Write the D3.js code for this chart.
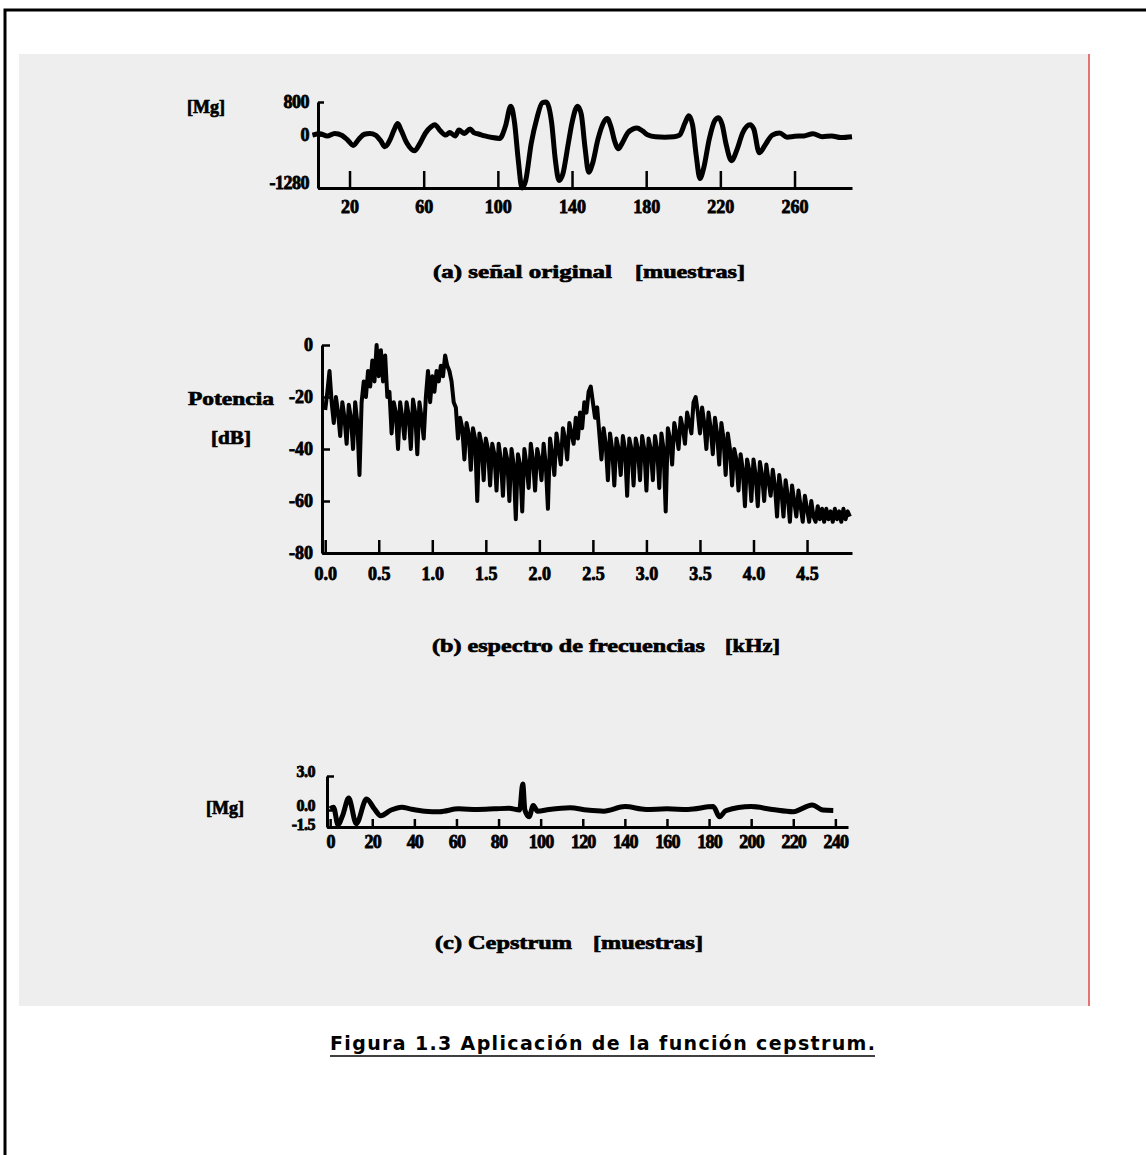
<!DOCTYPE html>
<html>
<head>
<meta charset="utf-8">
<script src="https://cdn.jsdelivr.net/npm/d3@7"></script>
<style>
  body { margin: 0; background: #ffffff; }
</style>
</head>
<body>
<script>
// (a) original signal: sample index and amplitude
var sigSamples = [0, 4, 8, 12, 16, 19, 22, 25, 28, 31, 34, 37, 39, 42, 44, 46, 48, 51, 55, 58,
    61, 64, 66, 69, 72, 74, 77, 79, 82, 85, 87, 90, 93, 97, 101, 104, 107, 109, 111, 113,
    115, 118, 121, 124, 126, 129, 131, 133, 135, 138, 140, 143, 145, 147, 149, 151, 154, 157, 159, 161,
    163, 165, 167, 170, 173, 175, 178, 181, 185, 190, 195, 198, 201, 203, 205, 207, 209, 211, 214, 217,
    219, 221, 223, 226, 229, 232, 236, 238, 241, 244, 248, 252, 256, 260, 265, 270, 275, 280, 285, 291];
var sigValues = [0, 30, -20, 40, -10, -120, -250, -100, 20, 40, 0, -150, -280, -100, 120, 280, 100, -200, -380, -200,
    50, 200, 250, 100, 0, 60, -20, 120, 40, 150, 60, 20, -20, -60, -80, 200, 700, 300, -600, -1280,
    -1100, -200, 400, 780, 800, 300, -600, -1100, -950, -200, 300, 700, 500, -300, -900, -700, -100, 300, 400, 200,
    -150, -330, -200, 50, 150, 170, 100, 0, -40, -50, -40, 0, 300, 470, 250, -500, -1050, -800, -100, 350,
    420, 250, -200, -620, -350, 50, 250, 150, -430, -250, 0, 50, -50, -30, -20, 30, -40, -20, -60, -40];
var sigTicks = [20, 60, 100, 140, 180, 220, 260];
var sigYTicks = [800, 0, -1280];

// (b) frequency spectrum: kHz and dB
var specFreq = [
    0.00, 0.02, 0.04, 0.06, 0.08, 0.10, 0.12, 0.14, 0.16, 0.18,
    0.20, 0.22, 0.24, 0.26, 0.28, 0.30, 0.32, 0.34, 0.36, 0.38,
    0.40, 0.42, 0.44, 0.46, 0.48, 0.50, 0.52, 0.54, 0.56, 0.58,
    0.60, 0.62, 0.64, 0.66, 0.68, 0.70, 0.72, 0.74, 0.76, 0.78,
    0.80, 0.82, 0.84, 0.86, 0.88, 0.90, 0.92, 0.94, 0.96, 0.98,
    1.00, 1.02, 1.04, 1.06, 1.08, 1.10, 1.12, 1.14, 1.16, 1.18,
    1.20, 1.22, 1.24, 1.26, 1.28, 1.30, 1.32, 1.34, 1.36, 1.38,
    1.40, 1.42, 1.44, 1.46, 1.48, 1.50, 1.52, 1.54, 1.56, 1.58,
    1.60, 1.62, 1.64, 1.66, 1.68, 1.70, 1.72, 1.74, 1.76, 1.78,
    1.80, 1.82, 1.84, 1.86, 1.88, 1.90, 1.92, 1.94, 1.96, 1.98,
    2.00, 2.02, 2.04, 2.06, 2.08, 2.10, 2.12, 2.14, 2.16, 2.18,
    2.20, 2.22, 2.24, 2.26, 2.28, 2.30, 2.32, 2.34, 2.36, 2.38,
    2.40, 2.42, 2.44, 2.46, 2.48, 2.50, 2.52, 2.54, 2.56, 2.58,
    2.60, 2.62, 2.64, 2.66, 2.68, 2.70, 2.72, 2.74, 2.76, 2.78,
    2.80, 2.82, 2.84, 2.86, 2.88, 2.90, 2.92, 2.94, 2.96, 2.98,
    3.00, 3.02, 3.04, 3.06, 3.08, 3.10, 3.12, 3.14, 3.16, 3.18,
    3.20, 3.22, 3.24, 3.26, 3.28, 3.30, 3.32, 3.34, 3.36, 3.38,
    3.40, 3.42, 3.44, 3.46, 3.48, 3.50, 3.52, 3.54, 3.56, 3.58,
    3.60, 3.62, 3.64, 3.66, 3.68, 3.70, 3.72, 3.74, 3.76, 3.78,
    3.80, 3.82, 3.84, 3.86, 3.88, 3.90, 3.92, 3.94, 3.96, 3.98,
    4.00, 4.02, 4.04, 4.06, 4.08, 4.10, 4.12, 4.14, 4.16, 4.18,
    4.20, 4.22, 4.24, 4.26, 4.28, 4.30, 4.32, 4.34, 4.36, 4.38,
    4.40, 4.42, 4.44, 4.46, 4.48, 4.50, 4.52, 4.54, 4.56, 4.58,
    4.60, 4.62, 4.64, 4.66, 4.68, 4.70, 4.72, 4.74, 4.76, 4.78,
    4.80, 4.82, 4.84, 4.86, 4.88, 4.90];
var specDb = [
    -25, -18, -10, -22, -30, -20, -26, -35, -22, -28,
    -38, -23, -28, -40, -22, -30, -50, -22, -14, -20,
    -10, -16, -6, -14, 0, -12, -2, -14, -4, -20,
    -18, -34, -22, -26, -40, -22, -28, -36, -22, -27,
    -40, -21, -26, -42, -22, -28, -36, -20, -10, -22,
    -12, -18, -10, -14, -8, -12, -4, -8, -10, -14,
    -22, -24, -36, -28, -32, -44, -30, -34, -48, -32,
    -36, -60, -34, -38, -52, -36, -40, -54, -38, -42,
    -56, -38, -44, -58, -40, -44, -60, -40, -46, -67,
    -42, -46, -64, -40, -46, -55, -38, -44, -56, -40,
    -44, -52, -38, -46, -63, -36, -42, -50, -34, -40,
    -46, -32, -36, -44, -30, -34, -38, -28, -36, -26,
    -32, -22, -26, -18, -16, -22, -28, -24, -34, -44,
    -32, -38, -52, -34, -40, -54, -36, -40, -50, -35,
    -40, -58, -36, -40, -54, -36, -40, -52, -35, -40,
    -56, -36, -40, -52, -35, -40, -55, -34, -40, -64,
    -32, -36, -46, -30, -34, -40, -28, -32, -38, -26,
    -30, -34, -22, -20, -26, -34, -24, -30, -40, -26,
    -32, -42, -28, -34, -46, -30, -36, -50, -34, -40,
    -54, -40, -44, -56, -42, -48, -62, -44, -48, -60,
    -44, -50, -62, -45, -50, -60, -46, -52, -58, -48,
    -54, -66, -50, -56, -66, -52, -58, -68, -54, -60,
    -66, -56, -62, -68, -58, -63, -68, -60, -66, -68,
    -62, -67, -63, -68, -63, -67, -64, -68, -63, -67,
    -64, -68, -63, -67, -64, -66];
var specTicks = [0, 0.5, 1.0, 1.5, 2.0, 2.5, 3.0, 3.5, 4.0, 4.5];
var specYTicks = [0, -20, -40, -60, -80];

// (c) cepstrum: sample index and magnitude
var cepSamples = [0, 1.6, 3.7, 6, 8.8, 12.4, 17.3, 21, 24, 29, 34, 38, 45, 52, 61, 70, 78, 85, 90, 91.5,
    92.5, 94.5, 96.5, 98.5, 104, 114, 122, 130, 140, 150, 160, 170, 182, 185, 188, 200, 210, 220, 229, 234, 239];
var cepValues = [0.1, 0.25, -1.3, -0.45, 1.05, -1.2, 0.97, 0.1, -0.5, 0, 0.25, 0.1, -0.1, -0.15, 0.1, 0.05, 0.1, 0.15, 0, 2.3,
    0, -0.6, 0.4, -0.1, 0.05, 0.2, 0, -0.1, 0.3, 0.05, 0.1, 0.05, 0.3, -0.6, -0.05, 0.3, 0.05, -0.15, 0.45, 0, -0.05];
var cepTicks = [0, 20, 40, 60, 80, 100, 120, 140, 160, 180, 200, 220, 240];
var cepYTicks = [3.0, 0.0, -1.5];

var serif = "Liberation Serif";

var svg = d3.select("body").append("svg")
    .attr("width", 1146)
    .attr("height", 1155);

//Page frame and grey scan area
svg.append("rect")
    .attr("x", 19).attr("y", 54)
    .attr("width", 1069).attr("height", 952)
    .attr("fill", "#eeeeee");
svg.append("line")
    .attr("x1", 1089).attr("x2", 1089)
    .attr("y1", 54).attr("y2", 1006)
    .attr("stroke", "#e57373").attr("stroke-width", 2);
svg.append("path")
    .attr("d", "M5,1155V10H1146")
    .attr("fill", "none")
    .attr("stroke", "#000").attr("stroke-width", 3);

//Shared styling of the scanned axes
function styleAxis(g, size, spacing)
{
    g.select(".domain").attr("stroke", "#000").attr("stroke-width", 3);
    g.selectAll(".tick line").attr("stroke", "#000").attr("stroke-width", 2.5);
    g.selectAll(".tick text")
        .attr("fill", "#000")
        .attr("stroke", "#000").attr("stroke-width", 0.8)
        .style("font-family", serif)
        .style("font-weight", "bold")
        .style("font-size", size + "px")
        .style("letter-spacing", (spacing || 0) + "px");
}

function label(txt, x, y, width, size)
{
    svg.append("text")
        .attr("x", x).attr("y", y)
        .attr("dominant-baseline", "central")
        .attr("textLength", width)
        .attr("lengthAdjust", "spacingAndGlyphs")
        .attr("fill", "#000")
        .attr("stroke", "#000").attr("stroke-width", 0.7)
        .style("font-family", serif)
        .style("font-weight", "bold")
        .style("font-size", size + "px")
        .text(txt);
}

var fmt1 = function(d) { return d.toFixed(1); };
var fmtInt = function(d) { return String(d); };

//---------- (a) original signal ----------
var xA = d3.scaleLinear().domain([3, 291]).range([318, 852]);
var yA = d3.scaleLinear().domain([-1280, 800]).range([188, 102]);

svg.append("g")
    .attr("transform", "translate(0,188)")
    .call(d3.axisBottom(xA).tickValues(sigTicks).tickFormat(fmtInt).tickSizeInner(-17).tickSizeOuter(0).tickPadding(12))
    .call(styleAxis, 18);
var axA = svg.append("g")
    .attr("transform", "translate(318,0)")
    .call(d3.axisLeft(yA).tickValues(sigYTicks).tickFormat(fmtInt).tickSizeInner(-6).tickSizeOuter(0).tickPadding(9))
    .call(styleAxis, 18, -0.5);
//the bottom label sits a little above the corner in the scan
axA.selectAll(".tick text").attr("y", function(d) { return d === -1280 ? -5 : 0; });

svg.append("path")
    .datum(sigSamples.map(function(s, i) { return [s, sigValues[i]]; }))
    .attr("fill", "none")
    .attr("stroke", "#000")
    .attr("stroke-width", 5)
    .attr("stroke-linejoin", "round")
    .attr("d", d3.line()
        .x(function(d) { return xA(d[0]); })
        .y(function(d) { return yA(d[1]); })
        .curve(d3.curveMonotoneX));

label("[Mg]", 187, 107, 38, 18);
label("(a) señal original", 433, 271, 179, 19);
label("[muestras]", 635, 271, 110, 19);

//---------- (b) frequency spectrum ----------
var xB = d3.scaleLinear().domain([-0.03, 4.92]).range([322, 852]);
var yB = d3.scaleLinear().domain([-80, 0]).range([553, 345]);

svg.append("g")
    .attr("transform", "translate(0,553)")
    .call(d3.axisBottom(xB).tickValues(specTicks).tickFormat(fmt1).tickSizeInner(-13).tickSizeOuter(0).tickPadding(14))
    .call(styleAxis, 18);
svg.append("g")
    .attr("transform", "translate(322,0)")
    .call(d3.axisLeft(yB).tickValues(specYTicks).tickFormat(fmtInt)
        .tickSizeInner(-8).tickSizeOuter(0).tickPadding(9))
    .call(styleAxis, 18);

svg.append("path")
    .datum(specFreq.map(function(f, i) { return [f, specDb[i]]; }))
    .attr("fill", "none")
    .attr("stroke", "#000")
    .attr("stroke-width", 4)
    .attr("stroke-linejoin", "round")
    .attr("d", d3.line()
        .x(function(d) { return xB(d[0]); })
        .y(function(d) { return yB(d[1]); }));

label("Potencia", 188, 398, 86, 19);
label("[dB]", 211, 437, 40, 19);
label("(b) espectro de frecuencias", 432, 645, 273, 19);
label("[kHz]", 725, 645, 55, 19);

//---------- (c) cepstrum ----------
var xC = d3.scaleLinear().domain([-1.5, 246]).range([327, 848]);
var yC = d3.scaleLinear().domain([-1.5, 3.0]).range([827, 776]);

svg.append("g")
    .attr("transform", "translate(0,827)")
    .call(d3.axisBottom(xC).tickValues(cepTicks).tickFormat(fmtInt).tickSizeInner(-8).tickSizeOuter(0).tickPadding(8))
    .call(styleAxis, 18, -0.8);
var axC = svg.append("g")
    .attr("transform", "translate(327,0)")
    .call(d3.axisLeft(yC).tickValues(cepYTicks).tickFormat(fmt1).tickSizeInner(-7).tickSizeOuter(0).tickPadding(12))
    .call(styleAxis, 16, -0.5);
axC.selectAll(".tick text").attr("y", function(d) { return d === -1.5 ? -3 : -5; });

svg.append("path")
    .datum(cepSamples.map(function(s, i) { return [s, cepValues[i]]; }))
    .attr("fill", "none")
    .attr("stroke", "#000")
    .attr("stroke-width", 5)
    .attr("stroke-linejoin", "round")
    .attr("d", d3.line()
        .x(function(d) { return xC(d[0]); })
        .y(function(d) { return yC(d[1]); })
        .curve(d3.curveMonotoneX));

label("[Mg]", 206, 808, 38, 18);
label("(c) Cepstrum", 435, 942, 137, 19);
label("[muestras]", 593, 942, 110, 19);

//---------- figure caption ----------
svg.append("text")
    .attr("x", 330).attr("y", 1043)
    .attr("dominant-baseline", "central")
    .attr("textLength", 545)
    .attr("lengthAdjust", "spacing")
    .attr("fill", "#000")
    .style("font-family", "DejaVu Sans")
    .style("font-weight", "bold")
    .style("font-size", "19px")
    .text("Figura 1.3 Aplicación de la función cepstrum.");
svg.append("line")
    .attr("x1", 330).attr("x2", 875)
    .attr("y1", 1056).attr("y2", 1056)
    .attr("stroke", "#000").attr("stroke-width", 1.5);
</script>
</body>
</html>
